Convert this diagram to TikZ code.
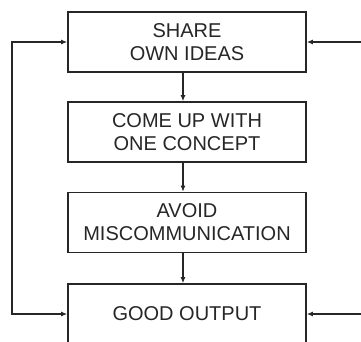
\documentclass[tikz,border=0pt]{standalone}
\usepackage{fontspec}
\setmainfont{Liberation Sans}
\usetikzlibrary{arrows.meta}
\begin{document}
\begin{tikzpicture}[x=1pt, y=1pt, >={Latex[length=6pt,width=5pt]},
  stepbox/.style={draw=black!85, line width=1.6pt, minimum width=238pt, minimum height=60pt,
    inner sep=0pt, align=center, font=\fontsize{20}{23}\selectfont, text=black!85},
  link/.style={line width=1.3pt, draw=black!85}]
\clip (0,0) rectangle (361,-341);
\node[stepbox](share) at (187,-42){SHARE\\OWN IDEAS};
\node[stepbox](concept) at (187,-132){COME UP WITH\\ONE CONCEPT};
\node[stepbox](avoid) at (187,-222.5){AVOID\\MISCOMMUNICATION};
\node[stepbox](output) at (187,-314){GOOD OUTPUT};
\coordinate(L1) at (12,-42);
\coordinate(L2) at (12,-314);
\coordinate(R1) at (372,-42);
\coordinate(R2) at (372,-314);
\draw[link, ->]([xshift=-4pt]share.south)--([xshift=-4pt]concept.north);
\draw[link, ->]([xshift=-4pt]concept.south)--([xshift=-4pt]avoid.north);
\draw[link, ->]([xshift=-4pt]avoid.south)--([xshift=-4pt]output.north);
\draw[link, <->](share.west)--(L1)--(L2)--(output.west);
\draw[link, <->](share.east)--(R1)--(R2)--(output.east);
\end{tikzpicture}
\end{document}
